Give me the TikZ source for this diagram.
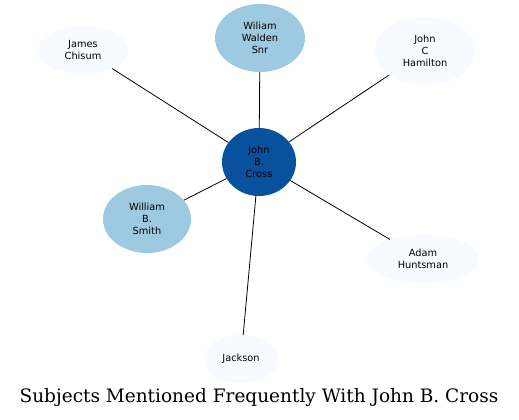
\documentclass[tikz,border=0pt]{standalone}
\usepackage{fontspec}
\newfontfamily\labelfont{DejaVu Sans}
\newfontfamily\titlefont{DejaVu Serif}
\usetikzlibrary{shapes.geometric}

\definecolor{hubblue}{HTML}{08519C}
\definecolor{midblue}{HTML}{9ECAE1}
\definecolor{paleblue}{HTML}{F7FBFF}

\begin{document}
\begin{tikzpicture}[x=1pt, y=-1pt,
  subject/.style={ellipse, inner sep=0pt, align=center,
    font=\labelfont\fontsize{9.8}{12}\selectfont},
  link/.style={line width=0.8pt}]
  \useasboundingbox (0,0) rectangle (519,420);

  % Central subject
  \node[subject, fill=hubblue, minimum width=74, minimum height=68]
    (cross) at (259,162) {John\\B.\\Cross};

  % Surrounding subjects
  \node[subject, fill=paleblue, minimum width=90, minimum height=48]
    (chisum) at (83,50) {James\\Chisum};
  \node[subject, fill=midblue, minimum width=90, minimum height=68]
    (walden) at (260,38) {Wiliam\\Walden\\Snr};
  \node[subject, fill=paleblue, minimum width=100, minimum height=68]
    (hamilton) at (425,51) {John\\C\\Hamilton};
  \node[subject, fill=midblue, minimum width=88, minimum height=68]
    (smith) at (147,219) {William\\B.\\Smith};
  \node[subject, fill=paleblue, minimum width=112, minimum height=48]
    (huntsman) at (423,259) {Adam\\Huntsman};
  \node[subject, fill=paleblue, minimum width=74, minimum height=48]
    (jackson) at (241,359) {Jackson};

  % Links from the hub
  \foreach \other in {chisum, walden, hamilton, smith, huntsman, jackson}
    \draw[link] (cross) -- (\other);

  % Title
  \node[font=\titlefont\fontsize{18.5}{21}\selectfont] (title) at (259,398)
    {Subjects Mentioned Frequently With John B. Cross};
\end{tikzpicture}
\end{document}
